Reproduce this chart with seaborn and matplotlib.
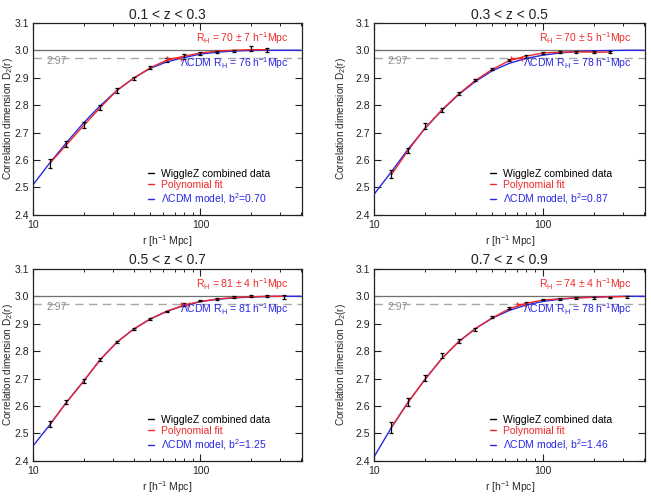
#!/usr/bin/env python3

import matplotlib

matplotlib.use("Agg")
import matplotlib.pylab as plt
import seaborn as sns
from matplotlib.lines import Line2D
from matplotlib.ticker import NullFormatter

sns.set_style("ticks")
plt.rcParams["font.family"] = ["Liberation Sans", "DejaVu Sans"]
plt.rcParams["mathtext.fontset"] = "custom"
plt.rcParams["mathtext.rm"] = "Liberation Sans"
plt.rcParams["mathtext.default"] = "regular"

RED = "#f02828"
BLUE = "#2828e6"
GREY = "#8c8c8c"

# Radial bins (h^-1 Mpc) of the measurements
r_bins = [12.6, 15.8, 20.0, 25.1, 31.6, 39.8, 50.1, 63.1, 79.4, 100.0,
          126.0, 158.0, 200.0, 251.0, 316.0]
# Sampling of the model curves
r_model = [10.0, 12.6, 15.8, 20.0, 25.1, 31.6, 39.8, 50.1, 63.1, 79.4,
           100.0, 126.0, 158.0, 200.0, 251.0, 316.0, 398.0]

titles = ["0.1 < z < 0.3", "0.3 < z < 0.5", "0.5 < z < 0.7", "0.7 < z < 0.9"]

# WiggleZ combined data, D2(r) and errors
d2_z1 = [2.588, 2.658, 2.727, 2.792, 2.853, 2.898, 2.936, 2.964, 2.977,
         2.989, 2.995, 2.998, 3.006, 3.000]
err_z1 = [0.017, 0.012, 0.012, 0.010, 0.008, 0.006, 0.006, 0.007, 0.008,
          0.006, 0.004, 0.004, 0.010, 0.008]
d2_z2 = [2.548, 2.635, 2.724, 2.783, 2.841, 2.891, 2.931, 2.964, 2.978,
         2.990, 2.993, 2.993, 2.993, 2.993]
err_z2 = [0.015, 0.010, 0.010, 0.008, 0.006, 0.005, 0.004, 0.005, 0.005,
          0.004, 0.003, 0.003, 0.003, 0.003]
d2_z3 = [2.534, 2.614, 2.691, 2.770, 2.833, 2.881, 2.917, 2.945, 2.970,
         2.985, 2.990, 2.997, 3.002, 3.002, 2.997]
err_z3 = [0.010, 0.008, 0.007, 0.006, 0.005, 0.004, 0.003, 0.003, 0.004,
          0.003, 0.003, 0.003, 0.003, 0.003, 0.006]
d2_z4 = [2.523, 2.614, 2.702, 2.784, 2.837, 2.880, 2.925, 2.956, 2.975,
         2.988, 2.990, 2.993, 2.994, 2.995, 2.997]
err_z4 = [0.020, 0.015, 0.010, 0.008, 0.006, 0.006, 0.004, 0.004, 0.005,
          0.003, 0.003, 0.003, 0.003, 0.003, 0.003]

# Polynomial fits (red), sampled on the data bins
poly_z1 = [2.588, 2.655, 2.725, 2.790, 2.853, 2.898, 2.936, 2.964, 2.978,
           2.990, 2.997, 3.000, 3.002, 3.002]
poly_z2 = [2.545, 2.633, 2.716, 2.782, 2.840, 2.890, 2.930, 2.962, 2.978,
           2.990, 2.993, 2.994, 2.993, 2.993]
poly_z3 = [2.533, 2.613, 2.690, 2.768, 2.832, 2.880, 2.917, 2.946, 2.967,
           2.981, 2.990, 2.995, 2.998, 3.000, 3.000]
poly_z4 = [2.521, 2.612, 2.697, 2.772, 2.834, 2.882, 2.921, 2.954, 2.974,
           2.986, 2.991, 2.994, 2.996, 2.998, 2.999]

# LCDM model curves (blue)
lcdm_z1 = [2.510, 2.590, 2.663, 2.735, 2.797, 2.853, 2.898, 2.934, 2.958,
           2.973, 2.986, 2.993, 2.997, 2.999, 3.000, 3.000, 3.000]
lcdm_z2 = [2.476, 2.556, 2.638, 2.715, 2.780, 2.838, 2.886, 2.925, 2.952,
           2.970, 2.982, 2.990, 2.995, 2.998, 2.999, 3.000, 3.000]
lcdm_z3 = [2.455, 2.532, 2.613, 2.690, 2.768, 2.832, 2.880, 2.917, 2.945,
           2.966, 2.980, 2.989, 2.994, 2.997, 2.999, 3.000, 3.000]
lcdm_z4 = [2.416, 2.520, 2.612, 2.697, 2.772, 2.834, 2.882, 2.920, 2.948,
           2.968, 2.981, 2.989, 2.994, 2.997, 2.999, 3.000, 3.000]

# Homogeneity scale (2.97 crossing) and bias
rh_poly = [70, 70, 81, 74]
rh_err = [7, 5, 4, 4]
rh_lcdm = [76, 78, 81, 78]
bias2 = ["0.70", "0.87", "1.25", "1.46"]

data = [d2_z1, d2_z2, d2_z3, d2_z4]
errs = [err_z1, err_z2, err_z3, err_z4]
polys = [poly_z1, poly_z2, poly_z3, poly_z4]
models = [lcdm_z1, lcdm_z2, lcdm_z3, lcdm_z4]

# panel positions [left, bottom, width, height] in figure fractions
positions = [
    [0.051, 0.567, 0.413, 0.387],
    [0.575, 0.567, 0.416, 0.387],
    [0.051, 0.071, 0.413, 0.387],
    [0.575, 0.071, 0.416, 0.387],
]
# where the y label sits (axes fraction), left column is tight to the edge
ylabel_x = [-0.066, -0.096, -0.066, -0.096]
title_pad = [2.5, 2.5, 3.5, 3.5]

fig = plt.figure(figsize=(6.51, 4.96), dpi=100)

for i in range(4):
    ax = fig.add_axes(positions[i])
    n = len(data[i])
    rb = r_bins[:n]

    # reference levels
    ax.axhline(3.0, color="#707070", lw=0.9)
    ax.axhline(2.97, color="#a8a8a8", lw=1.0, ls=(0, (6, 4)))

    sns.lineplot(x=r_model, y=models[i], ax=ax, color=BLUE, lw=1.0)
    sns.lineplot(x=rb, y=polys[i], ax=ax, color=RED, lw=1.0)
    ax.errorbar(rb, data[i], yerr=errs[i], fmt="none", ecolor="black",
                elinewidth=0.9, capsize=1.3, capthick=0.9)
    # homogeneity scale with its error
    ax.errorbar([rh_poly[i]], [2.97], xerr=[rh_err[i]], fmt="none",
                ecolor=RED, elinewidth=1.0, capsize=1.8, capthick=1.0)

    ax.set_xscale("log")
    ax.set_xlim(10, 405)
    ax.set_ylim(2.4, 3.1)
    ax.set_xticks([10, 100])
    ax.set_xticklabels(["10", "100"])
    ax.xaxis.set_minor_formatter(NullFormatter())
    ax.set_yticks([2.4, 2.5, 2.6, 2.7, 2.8, 2.9, 3.0, 3.1])
    ax.set_yticklabels(["2.4", "2.5", "2.6", "2.7", "2.8", "2.9", "3.0", "3.1"])
    ax.tick_params(which="both", direction="in", top=True, right=True,
                   labelsize=7.5, colors="#222222")
    ax.tick_params(which="major", length=5, width=0.8, pad=3)
    ax.tick_params(axis="x", which="major", pad=4)
    ax.tick_params(which="minor", length=2.5, width=0.7)
    for s in ax.spines.values():
        s.set_linewidth(0.9)
        s.set_color("#222222")

    ax.set_title(titles[i], fontsize=10, pad=title_pad[i], color="#222222")
    ax.set_xlabel(r"r [h$^{-1}$ Mpc]", fontsize=7.5, labelpad=2)
    ax.set_ylabel(r"Correlation dimension D$_2$(r)", fontsize=7.2)
    ax.yaxis.set_label_coords(ylabel_x[i], 0.5)

    ax.text(0.95, 0.92,
            r"R$_H$ = %d $\pm$ %d h$^{-1}$Mpc" % (rh_poly[i], rh_err[i]),
            transform=ax.transAxes, ha="right", va="center", fontsize=7.5,
            color=RED)
    ax.text(0.95, 0.79, r"$\Lambda$CDM R$_H$ = %d h$^{-1}$Mpc" % rh_lcdm[i],
            transform=ax.transAxes, ha="right", va="center", fontsize=7.5,
            color=BLUE)
    ax.text(0.05, 0.80, "2.97", transform=ax.transAxes, ha="left",
            va="center", fontsize=7.5, color=GREY)

    handles = [
        Line2D([], [], color="black", lw=1.0),
        Line2D([], [], color=RED, lw=1.0),
        Line2D([], [], color=BLUE, lw=1.0),
    ]
    labels = [
        "WiggleZ combined data",
        "Polynomial fit",
        r"$\Lambda$CDM model, b$^2$=%s" % bias2[i],
    ]
    leg = ax.legend(handles, labels, loc="lower left",
                    bbox_to_anchor=(0.41, 0.025), frameon=False, fontsize=7.5,
                    handlelength=0.6, handletextpad=0.7, labelspacing=0.12,
                    borderaxespad=0.0)
    for t, c in zip(leg.get_texts(), ["black", RED, BLUE]):
        t.set_color(c)

plt.savefig("out.png", dpi=100)
